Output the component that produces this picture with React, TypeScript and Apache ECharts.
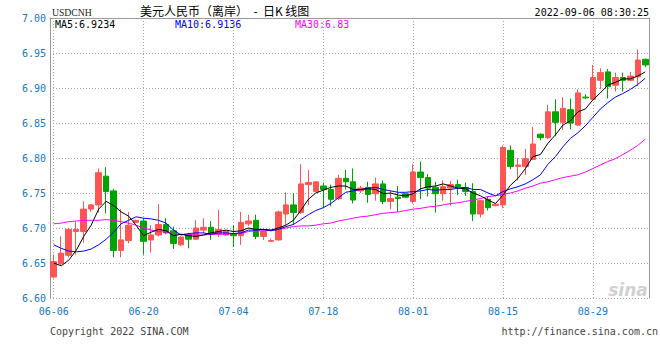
import React, { useEffect, useRef } from 'react';
import * as echarts from 'echarts';

const dates = [
  '06-06', '06-07', '06-08', '06-09', '06-10', '06-11',
  '06-13', '06-14', '06-15', '06-16', '06-17', '06-18',
  '06-20', '06-21', '06-22', '06-23', '06-24', '06-25',
  '06-27', '06-28', '06-29', '06-30', '07-01', '07-02',
  '07-04', '07-05', '07-06', '07-07', '07-08', '07-09',
  '07-11', '07-12', '07-13', '07-14', '07-15', '07-16',
  '07-18', '07-19', '07-20', '07-21', '07-22', '07-23',
  '07-25', '07-26', '07-27', '07-28', '07-29', '07-30',
  '08-01', '08-02', '08-03', '08-04', '08-05', '08-06',
  '08-08', '08-09', '08-10', '08-11', '08-12', '08-13',
  '08-15', '08-16', '08-17', '08-18', '08-19', '08-20',
  '08-22', '08-23', '08-24', '08-25', '08-26', '08-27',
  '08-29', '08-30', '08-31', '09-01', '09-02', '09-03',
  '09-05', '09-06',
];

const opens = [
  6.630, 6.649, 6.661, 6.695, 6.695, 6.727, 6.733, 6.774, 6.753, 6.668,
  6.682, 6.708, 6.710, 6.683, 6.690, 6.705, 6.696, 6.676, 6.690, 6.684,
  6.697, 6.701, 6.692, 6.690, 6.692, 6.689, 6.706, 6.711, 6.688, 6.681,
  6.683, 6.720, 6.733, 6.722, 6.762, 6.752, 6.760, 6.755, 6.742, 6.771,
  6.766, 6.753, 6.758, 6.749, 6.763, 6.738, 6.744, 6.749, 6.738, 6.780,
  6.772, 6.758, 6.749, 6.757, 6.762, 6.758, 6.752, 6.720, 6.741, 6.732,
  6.733, 6.811, 6.788, 6.788, 6.798, 6.834, 6.829, 6.866, 6.851, 6.869,
  6.847, 6.887, 6.884, 6.911, 6.923, 6.904, 6.915, 6.911, 6.916, 6.941,
];
const closes = [
  6.652, 6.664, 6.698, 6.698, 6.727, 6.733, 6.779, 6.752, 6.668, 6.683,
  6.704, 6.711, 6.681, 6.690, 6.705, 6.693, 6.678, 6.687, 6.684, 6.700,
  6.701, 6.692, 6.698, 6.695, 6.689, 6.708, 6.710, 6.688, 6.695, 6.682,
  6.723, 6.733, 6.722, 6.763, 6.765, 6.766, 6.755, 6.741, 6.771, 6.766,
  6.740, 6.757, 6.748, 6.763, 6.738, 6.742, 6.742, 6.744, 6.780, 6.772,
  6.757, 6.749, 6.759, 6.762, 6.759, 6.752, 6.720, 6.739, 6.729, 6.734,
  6.815, 6.788, 6.790, 6.799, 6.820, 6.829, 6.866, 6.851, 6.871, 6.850,
  6.893, 6.886, 6.915, 6.922, 6.902, 6.915, 6.911, 6.917, 6.940, 6.933,
];
const lows = [
  6.628, 6.646, 6.658, 6.662, 6.679, 6.723, 6.722, 6.721, 6.658, 6.658,
  6.678, 6.707, 6.662, 6.665, 6.688, 6.691, 6.670, 6.674, 6.671, 6.683,
  6.692, 6.683, 6.687, 6.689, 6.673, 6.676, 6.703, 6.684, 6.683, 6.680,
  6.682, 6.704, 6.704, 6.720, 6.733, 6.752, 6.728, 6.731, 6.740, 6.755,
  6.735, 6.750, 6.736, 6.739, 6.734, 6.727, 6.723, 6.743, 6.735, 6.741,
  6.745, 6.722, 6.739, 6.732, 6.747, 6.746, 6.710, 6.715, 6.725, 6.731,
  6.728, 6.784, 6.768, 6.776, 6.797, 6.825, 6.827, 6.831, 6.840, 6.841,
  6.846, 6.884, 6.883, 6.898, 6.885, 6.895, 6.895, 6.910, 6.903, 6.930,
];
const highs = [
  6.662, 6.688, 6.700, 6.709, 6.738, 6.734, 6.785, 6.787, 6.756, 6.727,
  6.723, 6.712, 6.714, 6.704, 6.734, 6.714, 6.702, 6.688, 6.693, 6.711,
  6.714, 6.710, 6.726, 6.697, 6.704, 6.723, 6.719, 6.719, 6.698, 6.685,
  6.725, 6.751, 6.749, 6.791, 6.783, 6.766, 6.765, 6.762, 6.776, 6.783,
  6.785, 6.760, 6.766, 6.772, 6.768, 6.753, 6.760, 6.750, 6.791, 6.795,
  6.777, 6.766, 6.768, 6.767, 6.769, 6.765, 6.764, 6.740, 6.745, 6.735,
  6.818, 6.818, 6.800, 6.813, 6.844, 6.835, 6.876, 6.884, 6.887, 6.885,
  6.898, 6.891, 6.933, 6.928, 6.927, 6.922, 6.922, 6.923, 6.955, 6.942,
];

const ma5 = [
  6.650, 6.646, 6.654, 6.668, 6.688, 6.704, 6.727, 6.738, 6.732, 6.723,
  6.717, 6.704, 6.689, 6.694, 6.698, 6.696, 6.689, 6.691, 6.689, 6.688,
  6.690, 6.693, 6.695, 6.697, 6.695, 6.696, 6.700, 6.698, 6.698, 6.697,
  6.700, 6.704, 6.711, 6.725, 6.741, 6.750, 6.754, 6.758, 6.760, 6.760,
  6.755, 6.755, 6.756, 6.755, 6.749, 6.750, 6.747, 6.746, 6.749, 6.756,
  6.759, 6.760, 6.763, 6.760, 6.757, 6.756, 6.750, 6.746, 6.740, 6.735,
  6.747, 6.761, 6.771, 6.785, 6.802, 6.805, 6.821, 6.833, 6.847, 6.853,
  6.866, 6.870, 6.883, 6.893, 6.904, 6.908, 6.913, 6.913, 6.917, 6.923,
];
const ma10 = [
  6.676, 6.671, 6.667, 6.666, 6.667, 6.670, 6.676, 6.684, 6.694, 6.706,
  6.711, 6.716, 6.714, 6.713, 6.711, 6.707, 6.697, 6.690, 6.692, 6.693,
  6.693, 6.691, 6.693, 6.693, 6.692, 6.693, 6.697, 6.697, 6.698, 6.696,
  6.698, 6.702, 6.705, 6.712, 6.719, 6.725, 6.729, 6.735, 6.743, 6.751,
  6.753, 6.755, 6.757, 6.758, 6.755, 6.753, 6.751, 6.751, 6.752, 6.753,
  6.755, 6.754, 6.755, 6.755, 6.757, 6.758, 6.755, 6.755, 6.750, 6.746,
  6.752, 6.756, 6.759, 6.763, 6.769, 6.776, 6.791, 6.802, 6.816, 6.828,
  6.836, 6.846, 6.858, 6.870, 6.879, 6.887, 6.892, 6.898, 6.905, 6.914,
];
const ma30 = [
  6.706, 6.707, 6.709, 6.710, 6.711, 6.711, 6.711, 6.712, 6.711, 6.709,
  6.707, 6.704, 6.700, 6.697, 6.695, 6.694, 6.692, 6.691, 6.691, 6.690,
  6.690, 6.691, 6.691, 6.691, 6.692, 6.692, 6.695, 6.696, 6.696, 6.697,
  6.698, 6.700, 6.702, 6.703, 6.703, 6.704, 6.706, 6.707, 6.710, 6.712,
  6.714, 6.716, 6.717, 6.719, 6.721, 6.722, 6.723, 6.725, 6.727, 6.728,
  6.730, 6.731, 6.733, 6.735, 6.736, 6.738, 6.740, 6.742, 6.745, 6.746,
  6.748, 6.750, 6.753, 6.757, 6.760, 6.764, 6.766, 6.769, 6.772, 6.774,
  6.776, 6.780, 6.785, 6.790, 6.795, 6.799, 6.805, 6.811, 6.818, 6.827,
];

const yMin = 6.6;
const yMax = 7.0;
const yStep = 0.05;
const labelEvery = 12;

const titleCode = 'USDCNH';
const titleName = '美元人民币（离岸）  -  日K 线图';
const timestamp = '2022-09-06 08:30:25';
const ma5Label = 'MA5:6.9234';
const ma10Label = 'MA10:6.9136';
const ma30Label = 'MA30:6.83';
const copyright = 'Copyright 2022 SINA.COM';
const siteUrl = 'http://finance.sina.com.cn';

export default function App() {
  const ref = useRef<HTMLDivElement>(null);
  useEffect(() => {
    if (!ref.current) return;
    const chart = echarts.init(ref.current, null, { renderer: 'svg' });
    const candle = dates.map((_, i) => [opens[i], closes[i], lows[i], highs[i]]);
    const mono = 'DejaVu Sans Mono';
    const blue = '#1677c8';
    const red = '#ff5555';
    const green = '#00a400';
    const grid = '#aaaaaa';
    const frame = '#999999';
    const every = (i: number) => i % labelEvery === 0;
    chart.setOption({
      animation: false,
      grid: { left: 50, top: 18, width: 599, height: 280, show: false },
      xAxis: [
        {
          type: 'category',
          data: dates,
          boundaryGap: true,
          axisLine: { show: false },
          axisTick: { show: false },
          axisLabel: {
            interval: (i: number) => every(i),
            color: blue,
            fontFamily: mono,
            fontSize: 10,
            margin: 8,
          },
          splitLine: {
            show: true,
            interval: (i: number) => every(i),
            alignWithLabel: true,
            lineStyle: { color: grid, type: [1, 2], width: 1 },
          },
        },
        {
          type: 'category',
          data: dates,
          position: 'top',
          boundaryGap: true,
          axisLine: { show: true, lineStyle: { color: frame, width: 1 } },
          axisTick: { show: false },
          axisLabel: { show: false },
          splitLine: { show: false },
        },
      ],
      yAxis: [
        {
          type: 'value',
          min: yMin,
          max: yMax,
          interval: yStep,
          axisLine: { show: true, lineStyle: { color: frame, width: 1 } },
          axisTick: { show: false },
          axisLabel: {
            formatter: (v: number) => v.toFixed(2),
            color: blue,
            fontFamily: mono,
            fontSize: 10,
            margin: 4,
          },
          splitLine: { show: true, lineStyle: { color: grid, type: [1, 2], width: 1 } },
        },
        {
          type: 'value',
          position: 'right',
          min: yMin,
          max: yMax,
          interval: yStep,
          axisLine: { show: true, lineStyle: { color: frame, width: 1 } },
          axisTick: { show: false },
          axisLabel: { show: false },
          splitLine: { show: false },
        },
      ],
      series: [
        {
          type: 'candlestick',
          data: candle,
          barWidth: 6,
          silent: true,
          itemStyle: {
            color: red,
            color0: green,
            borderColor: red,
            borderColor0: green,
            borderWidth: 1,
          },
          z: 2,
        },
        {
          type: 'line',
          data: ma5,
          symbol: 'none',
          silent: true,
          lineStyle: { color: '#000000', width: 1 },
          itemStyle: { color: '#000000' },
          z: 5,
        },
        {
          type: 'line',
          data: ma10,
          symbol: 'none',
          silent: true,
          lineStyle: { color: '#0000ff', width: 1 },
          itemStyle: { color: '#0000ff' },
          z: 4,
        },
        {
          type: 'line',
          data: ma30,
          symbol: 'none',
          silent: true,
          lineStyle: { color: '#ff00ff', width: 1 },
          itemStyle: { color: '#ff00ff' },
          z: 3,
        },
      ],
      graphic: [
        {
          type: 'text', x: 52, y: 12, scaleX: 0.88,
          style: { text: titleCode, fill: '#222', font: '11px "Liberation Serif"', align: 'left', verticalAlign: 'middle' },
        },
        {
          type: 'text', x: 140, y: 10,
          style: { text: titleName, fill: '#000', font: '12px "Noto Sans CJK SC"', align: 'left', verticalAlign: 'middle' },
        },
        {
          type: 'text', x: 649, y: 12,
          style: { text: timestamp, fill: '#000', font: '10px "DejaVu Sans Mono"', align: 'right', verticalAlign: 'middle' },
        },
        {
          type: 'text', x: 55, y: 24,
          style: { text: ma5Label, fill: '#000', font: '10px "DejaVu Sans Mono"', align: 'left', verticalAlign: 'middle' },
        },
        {
          type: 'text', x: 175, y: 24,
          style: { text: ma10Label, fill: '#0000ff', font: '10px "DejaVu Sans Mono"', align: 'left', verticalAlign: 'middle' },
        },
        {
          type: 'text', x: 295, y: 24,
          style: { text: ma30Label, fill: '#ff00ff', font: '10px "DejaVu Sans Mono"', align: 'left', verticalAlign: 'middle' },
        },
        {
          type: 'text', x: 50, y: 331,
          style: { text: copyright, fill: '#444', font: '10px "DejaVu Sans Mono"', align: 'left', verticalAlign: 'middle' },
        },
        {
          type: 'text', x: 658, y: 331,
          style: { text: siteUrl, fill: '#444', font: '10px "DejaVu Sans Mono"', align: 'right', verticalAlign: 'middle' },
        },
        {
          type: 'text', x: 628, y: 290,
          style: { text: 'sina', fill: '#d0d0d0', font: 'italic bold 17px "DejaVu Sans"', align: 'center', verticalAlign: 'middle' },
        },
      ],
    });
    return () => chart.dispose();
  }, []);
  return (
    <div
      ref={ref}
      style={{ position: 'absolute', left: 0, top: 0, width: 660, height: 360 }}
    />
  );
}
